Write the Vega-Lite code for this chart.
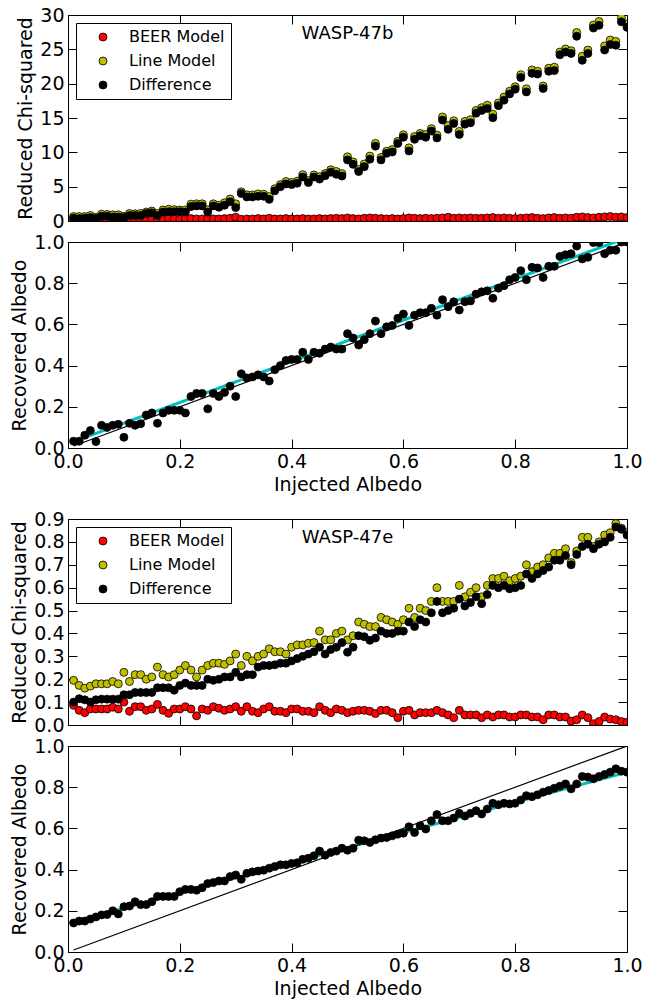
{
"$schema":"https://vega.github.io/schema/vega-lite/v6.json",
"padding":{"left":10,"top":5,"right":5,"bottom":5},
"background":"white",
"config":{
 "view":{"stroke":"black","strokeWidth":1},
 "font":"DejaVu Sans",
 "axis":{"domain":false,"grid":false,"tickColor":"black","tickWidth":1,"tickSize":-9,"labelFont":"DejaVu Sans","labelFontSize":19,"labelColor":"black","titleFont":"DejaVu Sans","titleFontSize":19,"titleFontWeight":"normal","titleColor":"black","labelFlush":false,"labelOverlap":false,"labelPadding":13},
 "axisBottom":{"labelPadding":13,"titlePadding":4},
 "legend":{"orient":"top-left","offset":8,"padding":6,"strokeColor":"black","strokeWidth":1,"fillColor":"white","cornerRadius":0,"labelFont":"DejaVu Sans","labelFontSize":16,"labelColor":"black","symbolType":"circle","symbolSize":64,"symbolStrokeColor":"black","symbolStrokeWidth":0.8,"symbolOffset":13,"labelOffset":18,"rowPadding":8}
},
"datasets":{
"p1":[
{"x":0.01,"beer":0.25,"line":0.65,"diff":0.4},{"x":0.02,"beer":0.3,"line":0.65,"diff":0.35},{"x":0.03,"beer":0.25,"line":0.65,"diff":0.4},{"x":0.04,"beer":0.3,"line":0.8,"diff":0.5},{"x":0.05,"beer":0.2,"line":0.55,"diff":0.35},
{"x":0.06,"beer":0.3,"line":1.0,"diff":0.7},{"x":0.07,"beer":0.25,"line":0.95,"diff":0.7},{"x":0.08,"beer":0.3,"line":0.9,"diff":0.6},{"x":0.09,"beer":0.3,"line":0.9,"diff":0.6},{"x":0.10,"beer":0.2,"line":0.7,"diff":0.5},
{"x":0.11,"beer":0.3,"line":1.1,"diff":0.8},{"x":0.12,"beer":0.25,"line":1.05,"diff":0.8},{"x":0.13,"beer":0.3,"line":1.1,"diff":0.8},{"x":0.14,"beer":0.2,"line":1.3,"diff":1.1},{"x":0.15,"beer":0.25,"line":1.45,"diff":1.2},
{"x":0.16,"beer":0.3,"line":1.1,"diff":0.8},{"x":0.17,"beer":0.3,"line":1.6,"diff":1.3},{"x":0.18,"beer":0.35,"line":1.7,"diff":1.35},{"x":0.19,"beer":0.3,"line":1.65,"diff":1.35},{"x":0.20,"beer":0.25,"line":1.6,"diff":1.35},
{"x":0.21,"beer":0.3,"line":1.6,"diff":1.3},{"x":0.22,"beer":0.35,"line":2.45,"diff":2.1},{"x":0.23,"beer":0.3,"line":2.5,"diff":2.2},{"x":0.24,"beer":0.3,"line":2.5,"diff":2.2},{"x":0.25,"beer":0.35,"line":1.65,"diff":1.3},
{"x":0.26,"beer":0.3,"line":2.5,"diff":2.2},{"x":0.27,"beer":0.3,"line":2.3,"diff":2.0},{"x":0.28,"beer":0.35,"line":2.65,"diff":2.3},{"x":0.29,"beer":0.4,"line":3.2,"diff":2.8},{"x":0.30,"beer":0.55,"line":2.5,"diff":1.95},
{"x":0.31,"beer":0.25,"line":4.25,"diff":4.0},{"x":0.32,"beer":0.3,"line":3.8,"diff":3.5},{"x":0.33,"beer":0.3,"line":3.8,"diff":3.5},{"x":0.34,"beer":0.35,"line":3.95,"diff":3.6},{"x":0.35,"beer":0.3,"line":3.9,"diff":3.6},
{"x":0.36,"beer":0.4,"line":3.55,"diff":3.15},{"x":0.37,"beer":0.3,"line":4.7,"diff":4.4},{"x":0.38,"beer":0.3,"line":5.3,"diff":5.0},{"x":0.39,"beer":0.35,"line":5.75,"diff":5.4},{"x":0.40,"beer":0.3,"line":5.6,"diff":5.3},
{"x":0.41,"beer":0.3,"line":5.8,"diff":5.5},{"x":0.42,"beer":0.35,"line":6.75,"diff":6.4},{"x":0.43,"beer":0.3,"line":5.9,"diff":5.6},{"x":0.44,"beer":0.3,"line":6.7,"diff":6.4},{"x":0.45,"beer":0.35,"line":6.45,"diff":6.1},
{"x":0.46,"beer":0.3,"line":6.9,"diff":6.6},{"x":0.47,"beer":0.35,"line":7.45,"diff":7.1},{"x":0.48,"beer":0.4,"line":7.2,"diff":6.8},{"x":0.49,"beer":0.35,"line":6.9,"diff":6.55},{"x":0.50,"beer":0.45,"line":9.35,"diff":8.9},
{"x":0.51,"beer":0.35,"line":8.6,"diff":8.25},{"x":0.52,"beer":0.3,"line":7.5,"diff":7.2},{"x":0.53,"beer":0.4,"line":8.3,"diff":7.9},{"x":0.54,"beer":0.45,"line":9.45,"diff":9.0},{"x":0.55,"beer":0.4,"line":11.3,"diff":10.9},
{"x":0.56,"beer":0.35,"line":9.25,"diff":8.9},{"x":0.57,"beer":0.3,"line":10.15,"diff":9.85},{"x":0.58,"beer":0.35,"line":10.4,"diff":10.05},{"x":0.59,"beer":0.3,"line":11.6,"diff":11.3},{"x":0.60,"beer":0.35,"line":12.55,"diff":12.2},
{"x":0.61,"beer":0.45,"line":10.65,"diff":10.2},{"x":0.62,"beer":0.4,"line":12.3,"diff":11.9},{"x":0.63,"beer":0.35,"line":12.75,"diff":12.4},{"x":0.64,"beer":0.4,"line":12.6,"diff":12.2},{"x":0.65,"beer":0.35,"line":13.45,"diff":13.1},
{"x":0.66,"beer":0.4,"line":12.5,"diff":12.1},{"x":0.67,"beer":0.45,"line":15.15,"diff":14.7},{"x":0.68,"beer":0.55,"line":13.9,"diff":13.35},{"x":0.69,"beer":0.4,"line":14.6,"diff":14.2},{"x":0.70,"beer":0.45,"line":13.05,"diff":12.6},
{"x":0.71,"beer":0.4,"line":14.5,"diff":14.1},{"x":0.72,"beer":0.45,"line":14.75,"diff":14.3},{"x":0.73,"beer":0.4,"line":16.1,"diff":15.7},{"x":0.74,"beer":0.4,"line":16.5,"diff":16.1},{"x":0.75,"beer":0.45,"line":16.85,"diff":16.4},
{"x":0.76,"beer":0.5,"line":15.55,"diff":15.05},{"x":0.77,"beer":0.4,"line":17.2,"diff":16.8},{"x":0.78,"beer":0.45,"line":18.05,"diff":17.6},{"x":0.79,"beer":0.4,"line":18.9,"diff":18.5},{"x":0.80,"beer":0.35,"line":19.55,"diff":19.2},
{"x":0.81,"beer":0.4,"line":21.3,"diff":20.9},{"x":0.82,"beer":0.45,"line":19.25,"diff":18.8},{"x":0.83,"beer":0.5,"line":22.0,"diff":21.5},{"x":0.84,"beer":0.4,"line":21.8,"diff":21.4},{"x":0.85,"beer":0.35,"line":19.65,"diff":19.3},
{"x":0.86,"beer":0.45,"line":22.25,"diff":21.8},{"x":0.87,"beer":0.5,"line":22.4,"diff":21.9},{"x":0.88,"beer":0.4,"line":24.6,"diff":24.2},{"x":0.89,"beer":0.45,"line":25.05,"diff":24.6},{"x":0.90,"beer":0.4,"line":24.8,"diff":24.4},
{"x":0.91,"beer":0.55,"line":27.45,"diff":26.9},{"x":0.92,"beer":0.6,"line":24.0,"diff":23.4},{"x":0.93,"beer":0.5,"line":24.9,"diff":24.4},{"x":0.94,"beer":0.45,"line":28.55,"diff":28.1},{"x":0.95,"beer":0.55,"line":29.05,"diff":28.5},
{"x":0.96,"beer":0.6,"line":25.5,"diff":24.9},{"x":0.97,"beer":0.65,"line":26.35,"diff":25.7},{"x":0.98,"beer":0.55,"line":26.15,"diff":25.6},{"x":0.99,"beer":0.6,"line":29.6,"diff":29.0},{"x":1.00,"beer":0.5,"line":28.7,"diff":28.2}
],
"p2":[
{"x":0.01,"rec":0.033},{"x":0.02,"rec":0.033},{"x":0.03,"rec":0.062},{"x":0.04,"rec":0.085},{"x":0.05,"rec":0.031},{"x":0.06,"rec":0.11},{"x":0.07,"rec":0.10},{"x":0.08,"rec":0.11},{"x":0.09,"rec":0.115},{"x":0.10,"rec":0.052},
{"x":0.11,"rec":0.12},{"x":0.12,"rec":0.11},{"x":0.13,"rec":0.118},{"x":0.14,"rec":0.16},{"x":0.15,"rec":0.17},{"x":0.16,"rec":0.12},{"x":0.17,"rec":0.17},{"x":0.18,"rec":0.183},{"x":0.19,"rec":0.183},{"x":0.20,"rec":0.183},
{"x":0.21,"rec":0.17},{"x":0.22,"rec":0.25},{"x":0.23,"rec":0.265},{"x":0.24,"rec":0.265},{"x":0.25,"rec":0.19},{"x":0.26,"rec":0.265},{"x":0.27,"rec":0.25},{"x":0.28,"rec":0.27},{"x":0.29,"rec":0.30},{"x":0.30,"rec":0.25},
{"x":0.31,"rec":0.36},{"x":0.32,"rec":0.34},{"x":0.33,"rec":0.345},{"x":0.34,"rec":0.355},{"x":0.35,"rec":0.345},{"x":0.36,"rec":0.325},{"x":0.37,"rec":0.38},{"x":0.38,"rec":0.40},{"x":0.39,"rec":0.425},{"x":0.40,"rec":0.43},
{"x":0.41,"rec":0.43},{"x":0.42,"rec":0.465},{"x":0.43,"rec":0.43},{"x":0.44,"rec":0.465},{"x":0.45,"rec":0.46},{"x":0.46,"rec":0.48},{"x":0.47,"rec":0.49},{"x":0.48,"rec":0.48},{"x":0.49,"rec":0.48},{"x":0.50,"rec":0.555},
{"x":0.51,"rec":0.534},{"x":0.52,"rec":0.50},{"x":0.53,"rec":0.526},{"x":0.54,"rec":0.555},{"x":0.55,"rec":0.616},{"x":0.56,"rec":0.555},{"x":0.57,"rec":0.588},{"x":0.58,"rec":0.595},{"x":0.59,"rec":0.63},{"x":0.60,"rec":0.65},
{"x":0.61,"rec":0.595},{"x":0.62,"rec":0.645},{"x":0.63,"rec":0.657},{"x":0.64,"rec":0.657},{"x":0.65,"rec":0.678},{"x":0.66,"rec":0.645},{"x":0.67,"rec":0.72},{"x":0.68,"rec":0.686},{"x":0.69,"rec":0.71},{"x":0.70,"rec":0.67},
{"x":0.71,"rec":0.71},{"x":0.72,"rec":0.714},{"x":0.73,"rec":0.747},{"x":0.74,"rec":0.758},{"x":0.75,"rec":0.763},{"x":0.76,"rec":0.727},{"x":0.77,"rec":0.776},{"x":0.78,"rec":0.788},{"x":0.79,"rec":0.817},{"x":0.80,"rec":0.828},
{"x":0.81,"rec":0.861},{"x":0.82,"rec":0.817},{"x":0.83,"rec":0.877},{"x":0.84,"rec":0.874},{"x":0.85,"rec":0.828},{"x":0.86,"rec":0.882},{"x":0.87,"rec":0.882},{"x":0.88,"rec":0.93},{"x":0.89,"rec":0.938},{"x":0.90,"rec":0.943},
{"x":0.91,"rec":0.98},{"x":0.92,"rec":0.918},{"x":0.93,"rec":0.926},{"x":0.94,"rec":0.997},{"x":0.95,"rec":0.997},{"x":0.96,"rec":0.943},{"x":0.97,"rec":0.96},{"x":0.98,"rec":0.96},{"x":0.99,"rec":1.0},{"x":1.00,"rec":1.0}
],
"p3":[
{"x":0.01,"beer":0.086,"line":0.195,"diff":0.10},{"x":0.02,"beer":0.064,"line":0.173,"diff":0.115},{"x":0.03,"beer":0.054,"line":0.161,"diff":0.11},{"x":0.04,"beer":0.07,"line":0.17,"diff":0.10},{"x":0.05,"beer":0.07,"line":0.18,"diff":0.11},
{"x":0.06,"beer":0.07,"line":0.18,"diff":0.113},{"x":0.07,"beer":0.07,"line":0.18,"diff":0.113},{"x":0.08,"beer":0.078,"line":0.19,"diff":0.113},{"x":0.09,"beer":0.07,"line":0.18,"diff":0.113},{"x":0.10,"beer":0.10,"line":0.23,"diff":0.132},
{"x":0.11,"beer":0.06,"line":0.19,"diff":0.132},{"x":0.12,"beer":0.08,"line":0.22,"diff":0.142},{"x":0.13,"beer":0.08,"line":0.22,"diff":0.142},{"x":0.14,"beer":0.064,"line":0.20,"diff":0.142},{"x":0.15,"beer":0.07,"line":0.21,"diff":0.142},
{"x":0.16,"beer":0.09,"line":0.253,"diff":0.163},{"x":0.17,"beer":0.064,"line":0.22,"diff":0.163},{"x":0.18,"beer":0.051,"line":0.21,"diff":0.163},{"x":0.19,"beer":0.07,"line":0.22,"diff":0.152},{"x":0.20,"beer":0.07,"line":0.24,"diff":0.173},
{"x":0.21,"beer":0.08,"line":0.26,"diff":0.183},{"x":0.22,"beer":0.07,"line":0.24,"diff":0.173},{"x":0.23,"beer":0.04,"line":0.21,"diff":0.173},{"x":0.24,"beer":0.07,"line":0.24,"diff":0.173},{"x":0.25,"beer":0.064,"line":0.26,"diff":0.20},
{"x":0.26,"beer":0.08,"line":0.27,"diff":0.195},{"x":0.27,"beer":0.073,"line":0.27,"diff":0.20},{"x":0.28,"beer":0.064,"line":0.265,"diff":0.21},{"x":0.29,"beer":0.07,"line":0.28,"diff":0.21},{"x":0.30,"beer":0.08,"line":0.31,"diff":0.23},
{"x":0.31,"beer":0.06,"line":0.26,"diff":0.21},{"x":0.32,"beer":0.08,"line":0.30,"diff":0.22},{"x":0.33,"beer":0.06,"line":0.28,"diff":0.22},{"x":0.34,"beer":0.054,"line":0.30,"diff":0.253},{"x":0.35,"beer":0.07,"line":0.31,"diff":0.26},
{"x":0.36,"beer":0.08,"line":0.333,"diff":0.26},{"x":0.37,"beer":0.06,"line":0.32,"diff":0.263},{"x":0.38,"beer":0.06,"line":0.32,"diff":0.27},{"x":0.39,"beer":0.054,"line":0.31,"diff":0.27},{"x":0.40,"beer":0.07,"line":0.34,"diff":0.28},
{"x":0.41,"beer":0.07,"line":0.35,"diff":0.29},{"x":0.42,"beer":0.06,"line":0.35,"diff":0.30},{"x":0.43,"beer":0.06,"line":0.357,"diff":0.31},{"x":0.44,"beer":0.054,"line":0.36,"diff":0.32},{"x":0.45,"beer":0.08,"line":0.41,"diff":0.34},
{"x":0.46,"beer":0.064,"line":0.372,"diff":0.31},{"x":0.47,"beer":0.054,"line":0.372,"diff":0.33},{"x":0.48,"beer":0.07,"line":0.40,"diff":0.34},{"x":0.49,"beer":0.064,"line":0.41,"diff":0.36},{"x":0.50,"beer":0.054,"line":0.372,"diff":0.318},
{"x":0.51,"beer":0.06,"line":0.39,"diff":0.34},{"x":0.52,"beer":0.064,"line":0.45,"diff":0.39},{"x":0.53,"beer":0.064,"line":0.44,"diff":0.386},{"x":0.54,"beer":0.06,"line":0.43,"diff":0.37},{"x":0.55,"beer":0.05,"line":0.43,"diff":0.38},
{"x":0.56,"beer":0.064,"line":0.47,"diff":0.41},{"x":0.57,"beer":0.064,"line":0.46,"diff":0.40},{"x":0.58,"beer":0.054,"line":0.45,"diff":0.40},{"x":0.59,"beer":0.032,"line":0.44,"diff":0.41},{"x":0.60,"beer":0.06,"line":0.46,"diff":0.41},
{"x":0.61,"beer":0.064,"line":0.51,"diff":0.45},{"x":0.62,"beer":0.044,"line":0.47,"diff":0.43},{"x":0.63,"beer":0.054,"line":0.51,"diff":0.46},{"x":0.64,"beer":0.054,"line":0.50,"diff":0.45},{"x":0.65,"beer":0.054,"line":0.54,"diff":0.49},
{"x":0.66,"beer":0.064,"line":0.60,"diff":0.54},{"x":0.67,"beer":0.054,"line":0.54,"diff":0.49},{"x":0.68,"beer":0.044,"line":0.54,"diff":0.50},{"x":0.69,"beer":0.032,"line":0.54,"diff":0.51},{"x":0.70,"beer":0.064,"line":0.61,"diff":0.55},
{"x":0.71,"beer":0.044,"line":0.56,"diff":0.52},{"x":0.72,"beer":0.044,"line":0.58,"diff":0.535},{"x":0.73,"beer":0.044,"line":0.60,"diff":0.56},{"x":0.74,"beer":0.032,"line":0.56,"diff":0.53},{"x":0.75,"beer":0.044,"line":0.61,"diff":0.57},
{"x":0.76,"beer":0.035,"line":0.64,"diff":0.61},{"x":0.77,"beer":0.044,"line":0.64,"diff":0.60},{"x":0.78,"beer":0.044,"line":0.65,"diff":0.61},{"x":0.79,"beer":0.035,"line":0.63,"diff":0.595},{"x":0.80,"beer":0.035,"line":0.64,"diff":0.60},
{"x":0.81,"beer":0.044,"line":0.65,"diff":0.61},{"x":0.82,"beer":0.044,"line":0.70,"diff":0.66},{"x":0.83,"beer":0.035,"line":0.67,"diff":0.64},{"x":0.84,"beer":0.035,"line":0.69,"diff":0.66},{"x":0.85,"beer":0.023,"line":0.70,"diff":0.675},
{"x":0.86,"beer":0.044,"line":0.73,"diff":0.69},{"x":0.87,"beer":0.044,"line":0.75,"diff":0.72},{"x":0.88,"beer":0.035,"line":0.75,"diff":0.72},{"x":0.89,"beer":0.035,"line":0.77,"diff":0.74},{"x":0.90,"beer":0.017,"line":0.71,"diff":0.70},
{"x":0.91,"beer":0.023,"line":0.76,"diff":0.745},{"x":0.92,"beer":0.044,"line":0.82,"diff":0.78},{"x":0.93,"beer":0.032,"line":0.82,"diff":0.79},{"x":0.94,"beer":0.006,"line":0.78,"diff":0.77},{"x":0.95,"beer":0.015,"line":0.80,"diff":0.79},
{"x":0.96,"beer":0.035,"line":0.83,"diff":0.80},{"x":0.97,"beer":0.026,"line":0.84,"diff":0.82},{"x":0.98,"beer":0.023,"line":0.88,"diff":0.865},{"x":0.99,"beer":0.015,"line":0.86,"diff":0.855},{"x":1.00,"beer":0.012,"line":0.84,"diff":0.83}
],
"p4":[
{"x":0.01,"rec":0.141},{"x":0.02,"rec":0.15},{"x":0.03,"rec":0.15},{"x":0.04,"rec":0.16},{"x":0.05,"rec":0.17},{"x":0.06,"rec":0.18},{"x":0.07,"rec":0.182},{"x":0.08,"rec":0.20},{"x":0.09,"rec":0.185},{"x":0.10,"rec":0.22},
{"x":0.11,"rec":0.223},{"x":0.12,"rec":0.244},{"x":0.13,"rec":0.23},{"x":0.14,"rec":0.23},{"x":0.15,"rec":0.244},{"x":0.16,"rec":0.27},{"x":0.17,"rec":0.27},{"x":0.18,"rec":0.27},{"x":0.19,"rec":0.27},{"x":0.20,"rec":0.293},
{"x":0.21,"rec":0.304},{"x":0.22,"rec":0.304},{"x":0.23,"rec":0.30},{"x":0.24,"rec":0.312},{"x":0.25,"rec":0.332},{"x":0.26,"rec":0.337},{"x":0.27,"rec":0.345},{"x":0.28,"rec":0.345},{"x":0.29,"rec":0.366},{"x":0.30,"rec":0.374},
{"x":0.31,"rec":0.353},{"x":0.32,"rec":0.382},{"x":0.33,"rec":0.389},{"x":0.34,"rec":0.393},{"x":0.35,"rec":0.397},{"x":0.36,"rec":0.407},{"x":0.37,"rec":0.415},{"x":0.38,"rec":0.423},{"x":0.39,"rec":0.423},{"x":0.40,"rec":0.43},
{"x":0.41,"rec":0.433},{"x":0.42,"rec":0.45},{"x":0.43,"rec":0.455},{"x":0.44,"rec":0.467},{"x":0.45,"rec":0.49},{"x":0.46,"rec":0.47},{"x":0.47,"rec":0.483},{"x":0.48,"rec":0.49},{"x":0.49,"rec":0.504},{"x":0.50,"rec":0.494},
{"x":0.51,"rec":0.504},{"x":0.52,"rec":0.543},{"x":0.53,"rec":0.54},{"x":0.54,"rec":0.532},{"x":0.55,"rec":0.545},{"x":0.56,"rec":0.553},{"x":0.57,"rec":0.556},{"x":0.58,"rec":0.564},{"x":0.59,"rec":0.572},{"x":0.60,"rec":0.577},
{"x":0.61,"rec":0.608},{"x":0.62,"rec":0.58},{"x":0.63,"rec":0.613},{"x":0.64,"rec":0.597},{"x":0.65,"rec":0.637},{"x":0.66,"rec":0.667},{"x":0.67,"rec":0.637},{"x":0.68,"rec":0.637},{"x":0.69,"rec":0.65},{"x":0.70,"rec":0.673},
{"x":0.71,"rec":0.66},{"x":0.72,"rec":0.673},{"x":0.73,"rec":0.686},{"x":0.74,"rec":0.67},{"x":0.75,"rec":0.694},{"x":0.76,"rec":0.722},{"x":0.77,"rec":0.715},{"x":0.78,"rec":0.722},{"x":0.79,"rec":0.719},{"x":0.80,"rec":0.722},
{"x":0.81,"rec":0.738},{"x":0.82,"rec":0.759},{"x":0.83,"rec":0.754},{"x":0.84,"rec":0.763},{"x":0.85,"rec":0.776},{"x":0.86,"rec":0.784},{"x":0.87,"rec":0.795},{"x":0.88,"rec":0.805},{"x":0.89,"rec":0.816},{"x":0.90,"rec":0.792},
{"x":0.91,"rec":0.816},{"x":0.92,"rec":0.852},{"x":0.93,"rec":0.849},{"x":0.94,"rec":0.841},{"x":0.95,"rec":0.852},{"x":0.96,"rec":0.862},{"x":0.97,"rec":0.873},{"x":0.98,"rec":0.889},{"x":0.99,"rec":0.878},{"x":1.00,"rec":0.873}
]
},
"vconcat":[
 {"vconcat":[
  {"width":559,"height":206,"data":{"name":"p1"},
   "layer":[
    {"mark":{"type":"point","filled":true,"shape":"circle","size":64,"stroke":"black","strokeWidth":0.8,"opacity":1,"clip":true},
     "encoding":{
      "x":{"field":"x","type":"quantitative","scale":{"domain":[0,1],"nice":false,"zero":false},"axis":{"orient":"top","labels":false,"title":null,"values":[0,0.2,0.4,0.6,0.8,1]}},
      "y":{"field":"beer","type":"quantitative","scale":{"domain":[0,30],"nice":false},"axis":{"orient":"right","labels":false,"title":null,"values":[0,5,10,15,20,25,30]}},
      "color":{"datum":"BEER Model","type":"nominal","scale":{"domain":["BEER Model","Line Model","Difference"],"range":["#ff0000","#bfbf00","#000000"]},"legend":{"title":null}}}},
    {"mark":{"type":"point","filled":true,"shape":"circle","size":64,"stroke":"black","strokeWidth":0.8,"opacity":1,"clip":true},
     "encoding":{
      "x":{"field":"x","type":"quantitative","axis":null},
      "y":{"field":"line","type":"quantitative","axis":null},
      "color":{"datum":"Line Model","type":"nominal","legend":{"title":null}}}},
    {"mark":{"type":"point","filled":true,"shape":"circle","size":64,"stroke":"black","strokeWidth":0.8,"opacity":1,"clip":true},
     "encoding":{
      "x":{"field":"x","type":"quantitative","axis":{"orient":"bottom","labels":false,"title":null,"values":[0,0.2,0.4,0.6,0.8,1]}},
      "y":{"field":"diff","type":"quantitative","axis":{"orient":"left","title":"Reduced Chi-squared","values":[0,5,10,15,20,25,30],"format":"d"}},
      "color":{"datum":"Difference","type":"nominal","legend":{"title":null}}}},
    {"data":{"values":[{"label":"WASP-47b"}]},
     "mark":{"type":"text","fontSize":18,"font":"DejaVu Sans","color":"black","baseline":"middle","align":"center"},
     "encoding":{"x":{"datum":0.5,"type":"quantitative","axis":null},"y":{"datum":27.3,"type":"quantitative","axis":null},"text":{"field":"label"}}}
   ],
   "resolve":{"axis":{"x":"independent","y":"independent"}}},
  {"width":559,"height":206,
   "layer":[
    {"data":{"values":[{"x":0.01,"y":0.031},{"x":1.0,"y":1.021}]},
     "mark":{"type":"line","color":"#00bfbf","strokeWidth":3,"clip":true},
     "encoding":{"x":{"field":"x","type":"quantitative","scale":{"domain":[0,1],"nice":false,"zero":false},"axis":null},"y":{"field":"y","type":"quantitative","scale":{"domain":[0,1],"nice":false},"axis":null}}},
    {"data":{"values":[{"x":0.01,"y":0.01},{"x":1.0,"y":1.0}]},
     "mark":{"type":"line","color":"black","strokeWidth":1.2,"clip":true},
     "encoding":{"x":{"field":"x","type":"quantitative","axis":{"orient":"top","labels":false,"title":null,"values":[0,0.2,0.4,0.6,0.8,1]}},"y":{"field":"y","type":"quantitative","axis":{"orient":"right","labels":false,"title":null,"values":[0,0.2,0.4,0.6,0.8,1]}}}},
    {"data":{"name":"p2"},
     "mark":{"type":"point","filled":true,"shape":"circle","size":64,"color":"black","stroke":"black","strokeWidth":0.8,"opacity":1,"clip":true},
     "encoding":{"x":{"field":"x","type":"quantitative","axis":{"orient":"bottom","title":"Injected Albedo","values":[0,0.2,0.4,0.6,0.8,1],"format":".1f"}},"y":{"field":"rec","type":"quantitative","axis":{"orient":"left","title":"Recovered Albedo","values":[0,0.2,0.4,0.6,0.8,1],"format":".1f"}}}}
   ],
   "resolve":{"axis":{"x":"independent","y":"independent"}}}
 ],"spacing":21,"bounds":"flush","resolve":{"scale":{"color":"independent"}}},
 {"vconcat":[
  {"width":559,"height":206,"data":{"name":"p3"},
   "layer":[
    {"mark":{"type":"point","filled":true,"shape":"circle","size":64,"stroke":"black","strokeWidth":0.8,"opacity":1,"clip":true},
     "encoding":{
      "x":{"field":"x","type":"quantitative","scale":{"domain":[0,1],"nice":false,"zero":false},"axis":{"orient":"top","labels":false,"title":null,"values":[0,0.2,0.4,0.6,0.8,1]}},
      "y":{"field":"beer","type":"quantitative","scale":{"domain":[0,0.9],"nice":false},"axis":{"orient":"right","labels":false,"title":null,"values":[0,0.1,0.2,0.3,0.4,0.5,0.6,0.7,0.8,0.9]}},
      "color":{"datum":"BEER Model","type":"nominal","scale":{"domain":["BEER Model","Line Model","Difference"],"range":["#ff0000","#bfbf00","#000000"]},"legend":{"title":null}}}},
    {"mark":{"type":"point","filled":true,"shape":"circle","size":64,"stroke":"black","strokeWidth":0.8,"opacity":1,"clip":true},
     "encoding":{
      "x":{"field":"x","type":"quantitative","axis":null},
      "y":{"field":"line","type":"quantitative","axis":null},
      "color":{"datum":"Line Model","type":"nominal","legend":{"title":null}}}},
    {"mark":{"type":"point","filled":true,"shape":"circle","size":64,"stroke":"black","strokeWidth":0.8,"opacity":1,"clip":true},
     "encoding":{
      "x":{"field":"x","type":"quantitative","axis":{"orient":"bottom","labels":false,"title":null,"values":[0,0.2,0.4,0.6,0.8,1]}},
      "y":{"field":"diff","type":"quantitative","axis":{"orient":"left","title":"Reduced Chi-squared","values":[0,0.1,0.2,0.3,0.4,0.5,0.6,0.7,0.8,0.9],"format":".1f"}},
      "color":{"datum":"Difference","type":"nominal","legend":{"title":null}}}},
    {"data":{"values":[{"label":"WASP-47e"}]},
     "mark":{"type":"text","fontSize":18,"font":"DejaVu Sans","color":"black","baseline":"middle","align":"center"},
     "encoding":{"x":{"datum":0.5,"type":"quantitative","axis":null},"y":{"datum":0.818,"type":"quantitative","axis":null},"text":{"field":"label"}}}
   ],
   "resolve":{"axis":{"x":"independent","y":"independent"}}},
  {"width":559,"height":206,
   "layer":[
    {"data":{"values":[{"x":0.01,"y":0.147},{"x":1.0,"y":0.873}]},
     "mark":{"type":"line","color":"#00bfbf","strokeWidth":3,"clip":true},
     "encoding":{"x":{"field":"x","type":"quantitative","scale":{"domain":[0,1],"nice":false,"zero":false},"axis":null},"y":{"field":"y","type":"quantitative","scale":{"domain":[0,1],"nice":false},"axis":null}}},
    {"data":{"values":[{"x":0.01,"y":0.01},{"x":1.0,"y":1.0}]},
     "mark":{"type":"line","color":"black","strokeWidth":1.2,"clip":true},
     "encoding":{"x":{"field":"x","type":"quantitative","axis":{"orient":"top","labels":false,"title":null,"values":[0,0.2,0.4,0.6,0.8,1]}},"y":{"field":"y","type":"quantitative","axis":{"orient":"right","labels":false,"title":null,"values":[0,0.2,0.4,0.6,0.8,1]}}}},
    {"data":{"name":"p4"},
     "mark":{"type":"point","filled":true,"shape":"circle","size":64,"color":"black","stroke":"black","strokeWidth":0.8,"opacity":1,"clip":true},
     "encoding":{"x":{"field":"x","type":"quantitative","axis":{"orient":"bottom","title":"Injected Albedo","values":[0,0.2,0.4,0.6,0.8,1],"format":".1f"}},"y":{"field":"rec","type":"quantitative","axis":{"orient":"left","title":"Recovered Albedo","values":[0,0.2,0.4,0.6,0.8,1],"format":".1f"}}}}
   ],
   "resolve":{"axis":{"x":"independent","y":"independent"}}}
 ],"spacing":21,"bounds":"flush","resolve":{"scale":{"color":"independent"}}}
],
"spacing":14,
"resolve":{"scale":{"color":"independent"}}
}
